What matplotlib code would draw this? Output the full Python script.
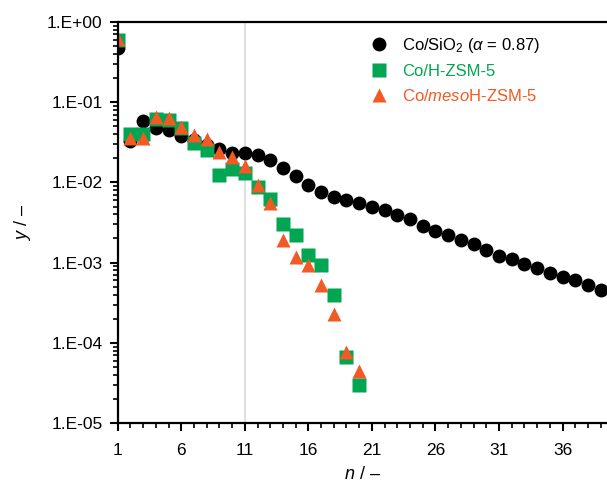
import matplotlib
matplotlib.use("Agg")
import matplotlib.pyplot as plt
from matplotlib.ticker import FixedLocator, LogLocator, NullFormatter

plt.rcParams['font.family'] = ['Liberation Sans', 'DejaVu Sans']
plt.rcParams['mathtext.fontset'] = 'custom'
plt.rcParams['mathtext.rm'] = 'Liberation Sans'
plt.rcParams['mathtext.it'] = 'Liberation Sans:italic'

# Co/SiO2 (ASF fit, alpha = 0.87)
n_sio2 = list(range(1, 40))
y_sio2 = [0.47, 0.033, 0.059, 0.048, 0.045, 0.038, 0.034, 0.029, 0.026, 0.023,
          0.023, 0.022, 0.019, 0.015, 0.012, 0.0093, 0.0075, 0.0065, 0.0061, 0.0055,
          0.0049, 0.0045, 0.0039, 0.0035, 0.0029, 0.0025, 0.0022, 0.0019, 0.0017, 0.00145,
          0.00122, 0.0011, 0.00096, 0.00085, 0.00074, 0.00066, 0.00060, 0.00053, 0.00046]

# Co/H-ZSM-5
n_hzsm = list(range(1, 21))
y_hzsm = [0.6, 0.040, 0.040, 0.062, 0.060, 0.047, 0.031, 0.025, 0.0123, 0.0147,
          0.013, 0.0087, 0.0062, 0.0030, 0.0022, 0.00125, 0.00094, 0.00040, 6.6e-5, 3.0e-5]

# Co/mesoH-ZSM-5
n_meso = list(range(1, 21))
y_meso = [0.62, 0.036, 0.036, 0.066, 0.064, 0.049, 0.039, 0.035, 0.024, 0.021,
          0.016, 0.0092, 0.0055, 0.0019, 0.00116, 0.00094, 0.00052, 0.00023, 7.8e-5, 4.5e-5]

x_ticks = [1, 6, 11, 16, 21, 26, 31, 36]
y_ticks = [1e0, 1e-1, 1e-2, 1e-3, 1e-4, 1e-5]
y_ticklabels = ['1.E+00', '1.E-01', '1.E-02', '1.E-03', '1.E-04', '1.E-05']

green = '#00a651'
orange = '#f15a24'

fig = plt.figure(figsize=(6.07, 4.88), dpi=100)
ax = fig.add_axes([0.194, 0.133, 0.806, 0.822])

ax.axvline(11, color='#d9d9d9', lw=1.2, zorder=0)

ax.plot(n_sio2, y_sio2, 'o', color='black', ms=10, mec='none',
        label=r'Co/SiO$_2$ ($\it{\alpha}$ = 0.87)')
ax.plot(n_hzsm, y_hzsm, 's', color=green, ms=9.5, mec='none', label='Co/H-ZSM-5')
ax.plot(n_meso, y_meso, '^', color=orange, ms=10.5, mec='none',
        label=r'Co/$\it{meso}$H-ZSM-5')

ax.set_yscale('log')
ax.set_xlim(1, 39.5)
ax.set_ylim(1e-5, 1)

ax.xaxis.set_major_locator(FixedLocator(x_ticks))
ax.xaxis.set_minor_locator(FixedLocator(range(1, 40)))
ax.set_yticks(y_ticks)
ax.set_yticklabels(y_ticklabels)
ax.yaxis.set_minor_locator(LogLocator(base=10, subs=range(2, 10), numticks=20))
ax.yaxis.set_minor_formatter(NullFormatter())

ax.tick_params(which='major', direction='out', length=6, width=1.5, labelsize=12.5)
ax.tick_params(axis='y', which='major', pad=5)
ax.tick_params(axis='x', which='major', pad=8)
ax.tick_params(which='minor', direction='out', length=3.5, width=1.2)

for side in ['left', 'bottom', 'top']:
    ax.spines[side].set_linewidth(1.6)
ax.spines['right'].set_visible(False)

ax.set_xlabel(r'$\it{n}$ / –', fontsize=13, labelpad=6)
ax.set_ylabel(r'$\it{y}$ / –', fontsize=13, labelpad=10)

leg = ax.legend(loc='upper left', bbox_to_anchor=(0.49, 0.995), frameon=False,
                fontsize=12, handletextpad=0.8, labelspacing=0.55,
                handlelength=1.2, borderaxespad=0.3)
for txt, col in zip(leg.get_texts(), ['black', green, orange]):
    txt.set_color(col)

fig.savefig('out.png', dpi=100)
